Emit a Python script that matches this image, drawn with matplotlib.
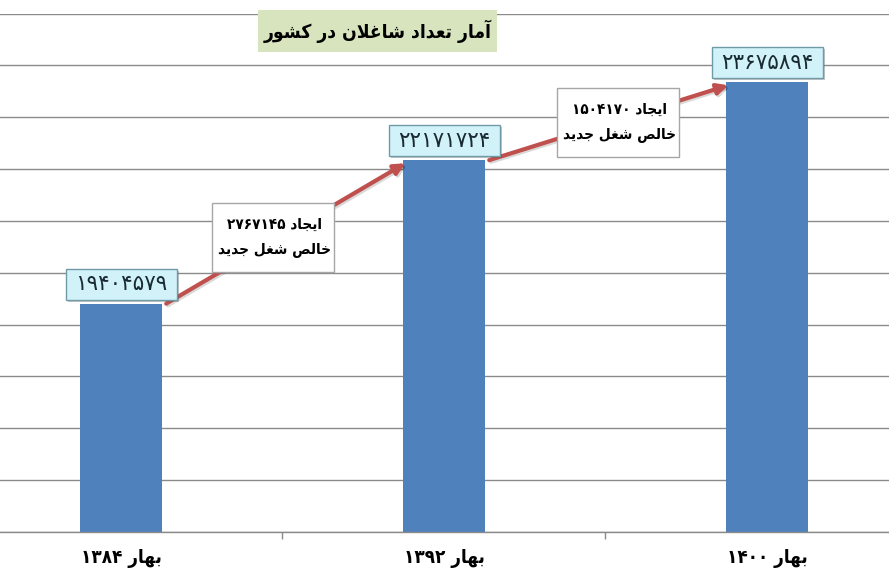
import matplotlib
matplotlib.use("Agg")
import matplotlib.pyplot as plt
from matplotlib.patches import Rectangle
from matplotlib.transforms import ScaledTranslation
import matplotlib.patheffects as pe

# ---------------- data ----------------
categories = ["بهار ۱۳۸۴", "بهار ۱۳۹۲", "بهار ۱۴۰۰"]
employed = [19404579, 22171724, 23675894]
value_labels = ["۱۹۴۰۴۵۷۹", "۲۲۱۷۱۷۲۴", "۲۳۶۷۵۸۹۴"]
net_new_jobs = ["ایجاد ۲۷۶۷۱۴۵\nخالص شغل جدید", "ایجاد ۱۵۰۴۱۷۰\nخالص شغل جدید"]
title = "آمار تعداد شاغلان در کشور"

# ---------------- minimal Persian shaping (matplotlib has no shaping) ----------------
FORMS = {  # iso, fin, ini, med
    '\u0627': ('\uFE8D', '\uFE8E', None, None),
    '\u0622': ('\uFE81', '\uFE82', None, None),
    '\u0628': ('\uFE8F', '\uFE90', '\uFE91', '\uFE92'),
    '\u062A': ('\uFE95', '\uFE96', '\uFE97', '\uFE98'),
    '\u062C': ('\uFE9D', '\uFE9E', '\uFE9F', '\uFEA0'),
    '\u062E': ('\uFEA5', '\uFEA6', '\uFEA7', '\uFEA8'),
    '\u062F': ('\uFEA9', '\uFEAA', None, None),
    '\u0631': ('\uFEAD', '\uFEAE', None, None),
    '\u0634': ('\uFEB5', '\uFEB6', '\uFEB7', '\uFEB8'),
    '\u0635': ('\uFEB9', '\uFEBA', '\uFEBB', '\uFEBC'),
    '\u0639': ('\uFEC9', '\uFECA', '\uFECB', '\uFECC'),
    '\u063A': ('\uFECD', '\uFECE', '\uFECF', '\uFED0'),
    '\u06A9': ('\uFED9', '\uFEDA', '\uFEDB', '\uFEDC'),
    '\u0644': ('\uFEDD', '\uFEDE', '\uFEDF', '\uFEE0'),
    '\u0645': ('\uFEE1', '\uFEE2', '\uFEE3', '\uFEE4'),
    '\u0646': ('\uFEE5', '\uFEE6', '\uFEE7', '\uFEE8'),
    '\u0647': ('\uFEE9', '\uFEEA', '\uFEEB', '\uFEEC'),
    '\u0648': ('\uFEED', '\uFEEE', None, None),
    '\u06CC': ('\uFEEF', '\uFEF0', '\uFEF3', '\uFEF4'),
}
LAMALEF = {'\u0627': ('\uFEFB', '\uFEFC'), '\u0622': ('\uFEF5', '\uFEF6')}
DIGITS = set('۰۱۲۳۴۵۶۷۸۹0123456789')


def dual(c):
    return c in FORMS and FORMS[c][2] is not None


def shape_line(s):
    out = []
    i = 0
    n = len(s)
    while i < n:
        c = s[i]
        prev = s[i - 1] if i > 0 else ''
        if c == '\u0644' and i + 1 < n and s[i + 1] in LAMALEF:
            iso, fin = LAMALEF[s[i + 1]]
            out.append(fin if dual(prev) else iso)
            i += 2
            continue
        if c in FORMS:
            nxt = s[i + 1] if i + 1 < n else ''
            jp = dual(prev)
            jn = dual(c) and nxt in FORMS
            iso, fin, ini, med = FORMS[c]
            if jp and jn:
                out.append(med)
            elif jp:
                out.append(fin)
            elif jn:
                out.append(ini)
            else:
                out.append(iso)
        else:
            out.append(c)
        i += 1
    vis = ''.join(out)[::-1]
    res, run = [], []
    for ch in vis:
        if ch in DIGITS:
            run.append(ch)
        else:
            if run:
                res.extend(run[::-1]); run = []
            res.append(ch)
    if run:
        res.extend(run[::-1])
    return ''.join(res)


def fa(s):
    return '\n'.join(shape_line(l) for l in s.split('\n'))


plt.rcParams['font.family'] = ['DejaVu Sans', 'Noto Sans']

W, H = 889, 585
DPI = 100
fig = plt.figure(figsize=(W / DPI, H / DPI), dpi=DPI)
# the reference is a crop: category axis extends beyond both image edges
ax = fig.add_axes([-40.5 / W, 53 / H, 969 / W, 518.5 / H])

x = list(range(len(employed)))
ax.bar(x, employed, width=0.254, color='#4F81BD', zorder=2)
ax.set_xlim(-0.5, len(employed) - 0.5)
ax.set_ylim(15e6, 25e6)
ax.set_yticks([15e6 + k * 1e6 for k in range(11)])
ax.yaxis.grid(True, color='#8A8A8A', linewidth=1.0, zorder=0)
ax.set_axisbelow(True)
for sp in ['top', 'right', 'left']:
    ax.spines[sp].set_visible(False)
ax.spines['bottom'].set_color('#8A8A8A')
ax.spines['bottom'].set_linewidth(1.0)
ax.tick_params(axis='y', left=False, labelleft=False)
ax.set_xticks(x)
ax.set_xticklabels([fa(c) for c in categories], fontsize=13.5, fontweight='bold',
                   fontstretch='condensed')
ax.tick_params(axis='x', length=0, pad=12)
ax.set_xticks([i + 0.5 for i in x[:-1]], minor=True)
ax.tick_params(axis='x', which='minor', length=5, color='#8A8A8A', width=1)


def px_box(xd, yd, x0, y0, w, h, **kw):
    """rectangle of fixed pixel size anchored at a data point"""
    tr = fig.dpi_scale_trans + ScaledTranslation(xd, yd, ax.transData)
    r = Rectangle((x0 / DPI, y0 / DPI), w / DPI, h / DPI, transform=tr, clip_on=False, **kw)
    ax.add_artist(r)
    return r


# arrows between bar tops
for i in range(len(employed) - 1):
    ax.annotate('', xy=(i + 1 - 0.12, employed[i + 1] - 0.06e6),
                xytext=(i + 0.14, employed[i]),
                arrowprops=dict(arrowstyle='-|>', color='#C0504D', lw=3.0,
                                mutation_scale=16, shrinkA=0, shrinkB=0,
                                path_effects=[pe.SimpleLineShadow(offset=(1.2, -1.2), alpha=0.15), pe.Normal()]),
                zorder=3)
    mx = (i + 0.14 + i + 1 - 0.12) / 2 - 0.04 + 0.07 * i
    my = (employed[i] + employed[i + 1]) / 2 - 0.1e6 + 0.08e6 * i
    px_box(mx, my, -61, -34.5, 122, 69, facecolor='white', edgecolor='#A6A6A6', linewidth=1, zorder=4)
    ax.text(mx + 0.004, my, fa(net_new_jobs[i]), ha='center', va='center', fontsize=11,
            fontweight='bold', fontstretch='condensed', linespacing=1.8, zorder=5)

# value labels
for i, v in enumerate(employed):
    px_box(i, v, -55, 4, 111, 31, facecolor='#D2F2FA', edgecolor='#6F9AA6', linewidth=1, zorder=6,
           path_effects=[pe.SimplePatchShadow(offset=(1.5, -1.5), alpha=0.3), pe.Normal()])
    ax.annotate(value_labels[i], xy=(i, v), xytext=(0, 19.5 * 72 / DPI), textcoords='offset points',
                ha='center', va='center', fontsize=15.5, color='#1A2A33', zorder=7)

# title box
fig.patches.append(Rectangle((258 / W, 1 - 52 / H), 239 / W, 42 / H, transform=fig.transFigure,
                             facecolor='#D7E4BD', edgecolor='none', zorder=5))
fig.text(377.5 / W, 1 - 31 / H, fa(title), ha='center', va='center', fontsize=13.8, fontweight='bold',
         fontstretch='condensed', color='black', zorder=6)

fig.savefig('out.png', dpi=DPI)
